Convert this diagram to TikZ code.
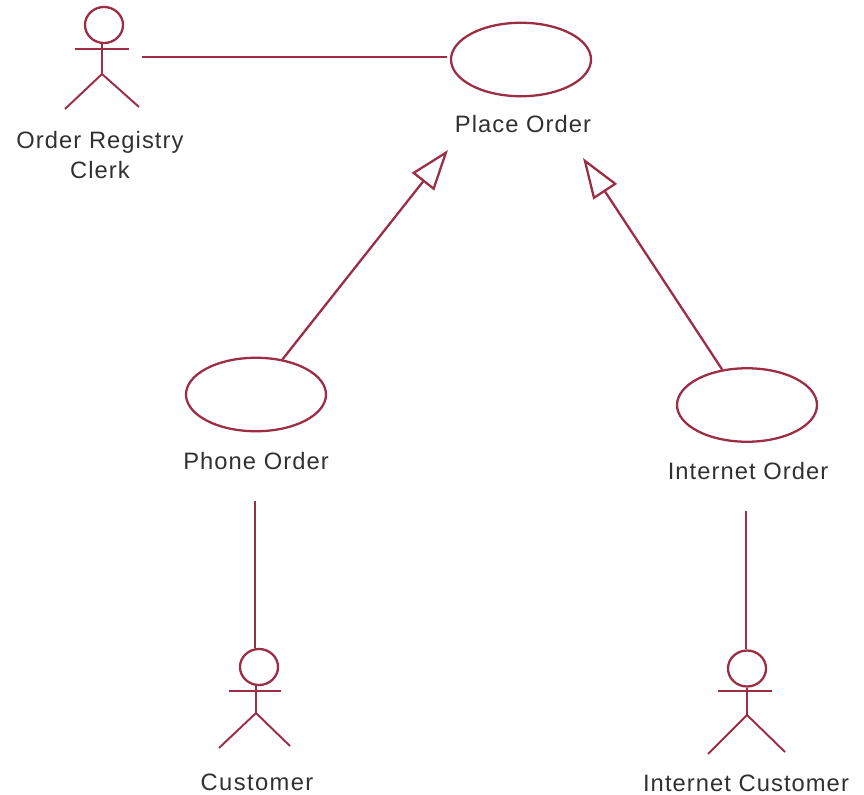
\documentclass[tikz,border=0pt]{standalone}
\usepackage{fontspec}
\setmainfont[LetterSpace=4.5]{Liberation Sans}
\usetikzlibrary{arrows.meta,shapes.geometric}
\definecolor{umlred}{HTML}{9B2D45}
\definecolor{umltext}{HTML}{303030}
\tikzset{
    line/.style={draw=umlred, line width=1.5pt},
    limb/.style={draw=umlred, line width=1.1pt},
    usecase/.style={ellipse, draw=umlred, line width=1.3pt, minimum width=2.8cm, minimum height=1.47cm, inner sep=0pt},
    head/.style={ellipse, draw=umlred, line width=1.3pt, minimum width=0.76cm, minimum height=0.72cm, inner sep=0pt},
    txt/.style={text=umltext, font=\fontsize{13.5}{17.5}\selectfont, align=center, inner sep=0pt},
    general/.style={-{Triangle[open, length=23pt, width=16pt]}, draw=umlred, line width=1.3pt}
}
\begin{document}
\begin{tikzpicture}[x=0.02cm, y=-0.02cm]

    \useasboundingbox (0,0) rectangle (864,794);

    \node[usecase] (place) at (521,59.5) {};
    \node[usecase] (phone) at (256,394.5) {};
    \node[usecase] (internet) at (747,405) {};

    \node[txt] (placetext) at (523,124) {Place Order};
    \node[txt] (phonetext) at (256,461) {Phone Order};
    \node[txt] (internettext) at (748,471) {Internet Order};
    \node[txt] (clerktext) at (100,155) {Order Registry\\Clerk};
    \node[txt] (customertext) at (257,782) {\addfontfeature{LetterSpace=6}Customer};
    \node[txt] (netcustomertext) at (746,783) {Internet Customer};

    \node[head] (clerkhead) at (104,25) {};
    \draw[line] (75,49) -- (129,49);
    \draw[line] (102,43) -- (102,74);
    \draw[limb] (65,109) -- (102,74) -- (139,107);

    \node[head] (customerhead) at (259,667) {};
    \draw[line] (229,691) -- (281,691);
    \draw[line] (256,685) -- (256,713);
    \draw[limb] (219,748) -- (256,713) -- (290,746);

    \node[head] (netcustomerhead) at (747,668.5) {};
    \draw[line] (718,691) -- (772,691);
    \draw[line] (netcustomerhead.south) -- (747,715);
    \draw[limb] (708,754) -- (747,715) -- (785,752);

    \coordinate (clerkend) at (142,57);
    \coordinate (placeend) at (447,57);
    \coordinate (phonetip) at (448,150);
    \coordinate (internettip) at (583,158);
    \coordinate (phoneend) at (255,501);
    \coordinate (internetend) at (746,511);

    \draw[line] (clerkend) -- (placeend);
    \draw[general] (phone.53) -- (phonetip);
    \draw[general] (internet.125) -- (internettip);
    \draw[line] (phoneend) -- (phoneend |- customerhead.north);
    \draw[line] (internetend) -- (internetend |- netcustomerhead.north);

\end{tikzpicture}
\end{document}
